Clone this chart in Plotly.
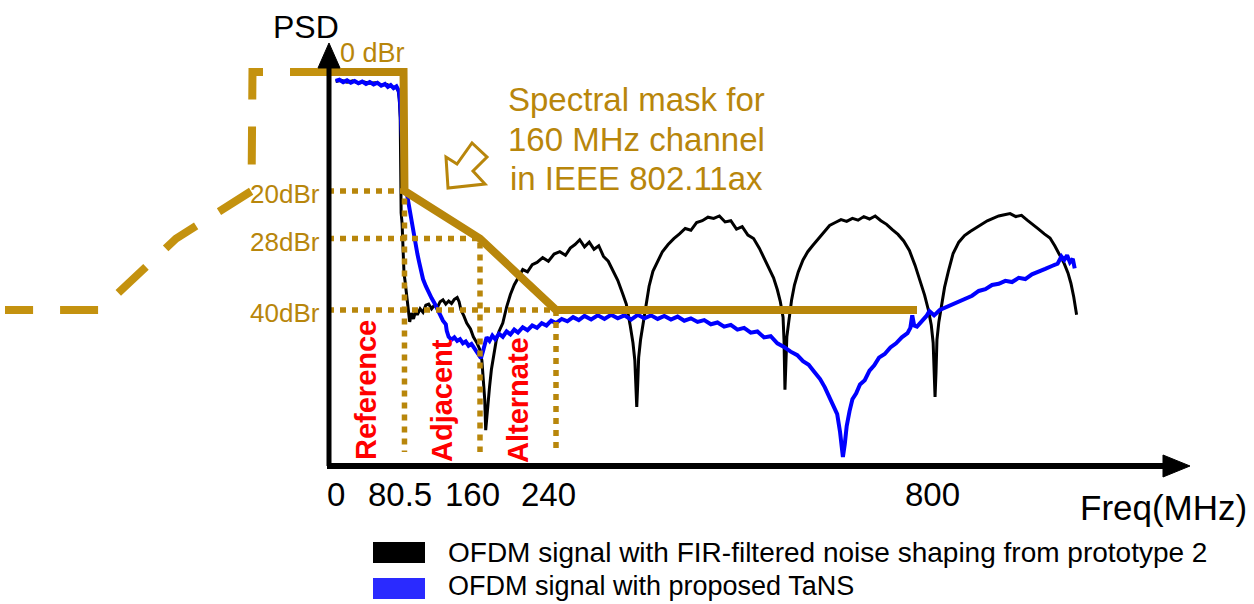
import plotly.graph_objects as go

# ---------------- data ----------------
# Spectral mask for a 160 MHz channel (IEEE 802.11ax), frequency offset in MHz, level in dBr
mask_freq = [0, 79.5, 80.5, 160, 240, 620]
mask_level = [0, 0, -20, -28, -40, -40]
mask_left_freq = [0, -79.5, -80.5, -160, -240, -340]
mask_left_level = [0, 0, -20, -28, -40, -40]

# mask break points marked with dotted guides
edge_freq = [80.5, 160, 240]
edge_level = [-20, -28, -40]
edge_labels = ["20dBr", "28dBr", "40dBr"]

band_labels = ["Reference", "Adjacent", "Alternate"]
band_centers = [40, 120, 200]

tick_labels = ["0", "80.5", "160", "240", "800"]

# OFDM signal with FIR-filtered noise shaping (prototype 2)
black_freq = [8, 14, 20, 26, 32, 38, 44, 50, 56, 62, 68, 72, 74, 75, 76, 76.5, 77, 78, 79, 80,
              81, 82, 83, 84, 85, 86, 88, 90, 92, 94, 97, 100, 103, 106, 109, 112, 115, 118, 121, 124,
              127, 130, 133, 136, 138, 140, 143, 146, 150, 153, 157, 160, 162, 163, 164, 165, 166, 167, 168, 170,
              172, 174, 177, 180, 184, 188, 192, 196, 200, 205, 210, 215, 220, 226, 232, 238, 244, 250, 255, 260,
              265, 270, 275, 280, 285, 290, 295, 300, 305, 310, 314, 318, 321, 323, 324, 325, 326, 327, 329, 332,
              335, 338, 342, 347, 352, 358, 364, 370, 376, 382, 388, 394, 400, 406, 412, 418, 424, 430, 436, 442,
              448, 454, 459, 464, 469, 473, 476, 479, 480, 481, 482, 483, 485, 488, 491, 495, 500, 505, 510, 516,
              522, 528, 534, 540, 546, 552, 558, 564, 570, 576, 582, 588, 594, 600, 606, 612, 618, 623, 628, 632,
              635, 637, 638, 639, 640, 641, 643, 646, 649, 653, 658, 664, 670, 676, 682, 688, 694, 700, 706, 712,
              718, 724, 730, 736, 742, 748, 754, 760, 765, 770, 775, 779, 782, 785, 787, 788]
black_psd = [-1.6, -1.4, -1.7, -1.5, -1.9, -1.7, -1.9, -1.8, -2.2, -2.1, -2.5, -2.6, -3.2, -4.5, -7.6, -15.0, -23.7, -25.5, -31.6, -33.8,
             -35.0, -36.5, -38.3, -40.0, -41.2, -42.0, -40.5, -41.5, -40.3, -40.8, -39.8, -40.4, -39.2, -39.0, -39.8, -39.2, -39.6, -38.6, -38.3, -39.0,
             -38.5, -38.9, -38.2, -37.9, -38.6, -40.0, -41.0, -42.2, -43.2, -44.5, -45.6, -46.7, -48.5, -50.6, -53.0, -55.1, -60.2, -58.0, -56.3, -53.0,
             -50.0, -47.9, -45.2, -43.6, -42.2, -39.5, -37.4, -35.8, -34.6, -33.2, -33.6, -32.4, -32.0, -31.2, -31.8, -30.6, -30.2, -30.8, -29.6, -29.0,
             -28.2, -29.4, -28.6, -29.8, -29.2, -31.0, -31.8, -33.3, -35.0, -37.2, -39.0, -42.5, -45.5, -48.5, -52.0, -56.3, -52.5, -48.0, -45.0, -42.0,
             -38.5, -36.0, -33.5, -31.8, -30.2, -29.0, -28.0, -27.2, -26.3, -26.6, -25.3, -25.0, -24.4, -24.6, -24.2, -25.2, -25.0, -26.4, -26.0, -27.4,
             -28.0, -29.6, -31.2, -32.8, -34.6, -36.6, -38.5, -41.2, -45.0, -53.4, -48.0, -44.5, -42.0, -38.3, -35.8, -33.6, -31.6, -30.2, -29.2, -28.1,
             -27.0, -25.8, -25.3, -24.8, -25.1, -24.6, -24.9, -24.3, -24.7, -24.2, -25.0, -25.6, -26.5, -27.3, -28.4, -30.0, -32.5, -35.0, -37.5, -40.0,
             -42.5, -45.5, -50.0, -54.6, -50.5, -45.0, -42.0, -38.8, -36.2, -33.5, -30.5, -28.6, -27.5, -26.8, -26.2, -25.6, -25.0, -24.6, -24.2, -24.0,
             -23.8, -24.3, -24.1, -24.9, -25.6, -26.4, -27.2, -27.9, -29.2, -30.6, -32.2, -33.8, -35.5, -37.8, -39.5, -40.8]

# OFDM signal with proposed TaNS
blue_freq = [8, 12, 16, 20, 24, 28, 32, 36, 40, 44, 48, 52, 56, 60, 63, 66, 69, 72, 74, 75,
             76, 77, 78, 79, 80, 82, 84, 86, 88, 90, 92, 94, 96, 98, 100, 103, 106, 109, 112, 115,
             118, 121, 124, 125, 127, 130, 133, 136, 139, 142, 145, 148, 151, 154, 157, 159, 161, 163, 165, 167,
             170, 173, 176, 180, 184, 188, 192, 196, 200, 205, 210, 215, 220, 225, 230, 235, 240, 246, 252, 258,
             264, 270, 277, 284, 291, 298, 305, 312, 319, 326, 333, 340, 347, 354, 361, 368, 375, 382, 389, 396,
             403, 410, 417, 424, 431, 438, 445, 452, 459, 466, 473, 480, 487, 494, 500, 506, 512, 518, 523, 528,
             532, 536, 539, 541, 542, 544, 546, 549, 552, 556, 560, 565, 570, 575, 580, 586, 592, 598, 604, 610,
             613, 615, 617, 620, 625, 630, 633, 638, 644, 650, 657, 664, 671, 678, 685, 692, 699, 706, 713, 720,
             727, 734, 741, 748, 755, 762, 768, 772, 775, 778, 781, 784, 786]
blue_psd = [-1.5, -1.3, -1.7, -1.4, -1.8, -1.5, -1.9, -1.6, -2.0, -1.7, -2.1, -1.8, -2.3, -2.0, -2.5, -2.2, -2.7, -2.4, -3.0, -3.6,
            -5.5, -9.0, -13.0, -16.0, -18.0, -19.5, -21.5, -23.0, -24.8, -26.5, -28.5, -30.5, -32.0, -33.5, -34.8, -36.0, -37.2, -38.0, -38.8, -39.8,
            -40.8, -41.8, -42.4, -43.5, -44.5, -45.0, -44.6, -45.2, -44.9, -45.6, -45.3, -46.0, -45.7, -46.5, -47.0, -47.8, -48.1, -47.0, -45.4, -44.6,
            -45.2, -44.3, -44.9, -44.0, -44.5, -43.6, -44.1, -43.3, -43.8, -42.9, -43.4, -42.6, -43.0, -42.2, -42.6, -41.8, -42.2, -41.5, -41.9, -41.2,
            -41.7, -41.0, -41.6, -40.9, -41.5, -40.8, -41.4, -40.9, -41.6, -40.8, -41.4, -40.9, -41.5, -41.0, -41.6, -41.1, -41.8, -41.4, -42.0, -41.7,
            -42.4, -42.1, -42.8, -42.5, -43.3, -43.0, -43.8, -43.6, -44.6, -44.4, -45.6, -46.2, -47.0, -47.6, -48.6, -49.2, -50.4, -51.6, -53.0, -54.6,
            -56.0, -57.5, -60.5, -63.0, -64.7, -62.5, -59.5, -57.0, -55.0, -54.0, -52.5, -51.8, -50.2, -49.3, -48.0, -47.4, -46.3, -45.6, -44.6, -43.9,
            -43.0, -40.9, -42.6, -42.8, -42.0, -41.0, -40.2, -40.9, -40.0, -39.6, -39.0, -38.6, -38.1, -37.6, -36.8, -36.5, -35.8, -35.6, -35.1, -35.3,
            -34.6, -34.8, -34.0, -33.6, -33.1, -32.6, -32.2, -31.0, -31.6, -30.8, -32.0, -31.4, -33.0]

legend_names = ["OFDM signal with FIR-filtered noise shaping from prototype 2",
                "OFDM signal with proposed TaNS"]

# ---------------- layout / styling ----------------
W, H = 1254, 604
X0_PX, PX_PER_MHZ = 328, 0.95      # where 0 MHz sits, horizontal scale
Y0_PX, PX_PER_DB = 72, 5.95        # where 0 dBr sits, vertical scale
x_range = [(0 - X0_PX) / PX_PER_MHZ, (W - X0_PX) / PX_PER_MHZ]
y_range = [-(H - Y0_PX) / PX_PER_DB, Y0_PX / PX_PER_DB]
GUIDE_BOTTOM = -(452 - Y0_PX) / PX_PER_DB

GOLD = "#B8860B"
GOLD_DASH = "#C4920F"
FONT = "Arial, Liberation Sans, Helvetica, sans-serif"


def P(px, py):
    """pixel position -> paper coordinates (plot area == whole figure)"""
    return px / W, 1 - py / H


def path(points):
    s = []
    for i, (px, py) in enumerate(points):
        x, y = P(px, py)
        s.append(("M" if i == 0 else "L") + f"{x:.5f},{y:.5f}")
    return " ".join(s) + " Z"


fig = go.Figure()

fig.add_trace(go.Scatter(x=black_freq, y=black_psd, mode="lines", name=legend_names[0],
                         line=dict(color="black", width=3), showlegend=False))
fig.add_trace(go.Scatter(x=blue_freq, y=blue_psd, mode="lines", name=legend_names[1],
                         line=dict(color="#0000FF", width=4), showlegend=False))

# dotted guides at the mask break points
for f, lv in zip(edge_freq, edge_level):
    fig.add_trace(go.Scatter(x=[0, f, f], y=[lv, lv, GUIDE_BOTTOM], mode="lines",
                             line=dict(color=GOLD, width=5.5, dash="6px,6px"),
                             showlegend=False, hoverinfo="skip"))

# spectral mask
fig.add_trace(go.Scatter(x=mask_left_freq, y=mask_left_level, mode="lines",
                         line=dict(color=GOLD_DASH, width=8, dash="38px,27px", simplify=False),
                         showlegend=False, hoverinfo="skip"))
fig.add_trace(go.Scatter(x=mask_freq, y=mask_level, mode="lines",
                         line=dict(color=GOLD, width=8), showlegend=False, hoverinfo="skip"))

shapes = []
# y axis with arrow
x, y0 = P(329, 466)
_, y1 = P(329, 62)
shapes.append(dict(type="line", xref="paper", yref="paper", x0=x, x1=x, y0=y0, y1=y1,
                   line=dict(color="black", width=5)))
shapes.append(dict(type="path", xref="paper", yref="paper",
                   path=path([(329, 43), (318, 68), (340, 68)]),
                   fillcolor="black", line=dict(color="black", width=1)))
# x axis with arrow
x0, yy = P(327, 466)
x1, _ = P(1168, 466)
shapes.append(dict(type="line", xref="paper", yref="paper", x0=x0, x1=x1, y0=yy, y1=yy,
                   line=dict(color="black", width=6)))
shapes.append(dict(type="path", xref="paper", yref="paper",
                   path=path([(1190, 466), (1163, 455), (1163, 477)]),
                   fillcolor="black", line=dict(color="black", width=1)))
# hollow pointer arrow
shapes.append(dict(type="path", xref="paper", yref="paper",
                   path=path([(448, 188), (446, 157), (457, 164), (472, 143), (487, 157),
                              (473, 171), (485, 184)]),
                   fillcolor="white", line=dict(color=GOLD, width=3)))
# legend swatches
for (py0, py1), col in zip([(542, 563), (578, 599)], ["black", "#2A2AFF"]):
    xa, ya = P(373, py1)
    xb, yb = P(425, py0)
    shapes.append(dict(type="rect", xref="paper", yref="paper", x0=xa, x1=xb, y0=ya, y1=yb,
                       fillcolor=col, line=dict(width=0)))

ann = []


def text(px, py, s, size, color="black", xanchor="center", bold=False, angle=0):
    x, y = P(px, py)
    ann.append(dict(xref="paper", yref="paper", x=x, y=y, text=f"<b>{s}</b>" if bold else s,
                    showarrow=False, xanchor=xanchor, yanchor="middle", textangle=angle,
                    font=dict(family=FONT, size=size, color=color)))


text(306, 27, "PSD", 32)
text(338, 53, "0 dBr", 27, GOLD, xanchor="left")
for lv, lab in zip(edge_level, edge_labels):
    ann.append(dict(xref="x", yref="y", x=0, y=lv, text=lab, showarrow=False,
                    xanchor="right", yanchor="middle", xshift=-6, yshift=-3,
                    font=dict(family=FONT, size=26, color=GOLD)))
text(636, 99, "Spectral mask for", 33, GOLD)
text(636, 139, "160 MHz channel", 33, GOLD)
text(636, 178, "in IEEE 802.11ax", 33, GOLD)

for c, lab, py in zip(band_centers, band_labels, [390, 401, 400]):
    _, y = P(0, py)
    ann.append(dict(xref="x", yref="paper", x=c, y=y, text=f"<b>{lab}</b>", showarrow=False,
                    xanchor="center", yanchor="middle", textangle=-90,
                    font=dict(family=FONT, size=29, color="#FF0000")))

for lab, px in zip(tick_labels, [336, 400, 472, 548, 932]):
    text(px, 494, lab, 33)
text(1163, 507, "Freq(MHz)", 35)

text(446, 552, legend_names[0], 28, xanchor="left")
text(446, 586, legend_names[1], 27, xanchor="left")

fig.update_layout(
    width=W, height=H, autosize=False,
    margin=dict(l=0, r=0, t=0, b=0, pad=0),
    paper_bgcolor="white", plot_bgcolor="white",
    xaxis=dict(range=x_range, visible=False, fixedrange=True),
    yaxis=dict(range=y_range, visible=False, fixedrange=True),
    shapes=shapes, annotations=ann, showlegend=False,
)

fig.write_html("out.html")
